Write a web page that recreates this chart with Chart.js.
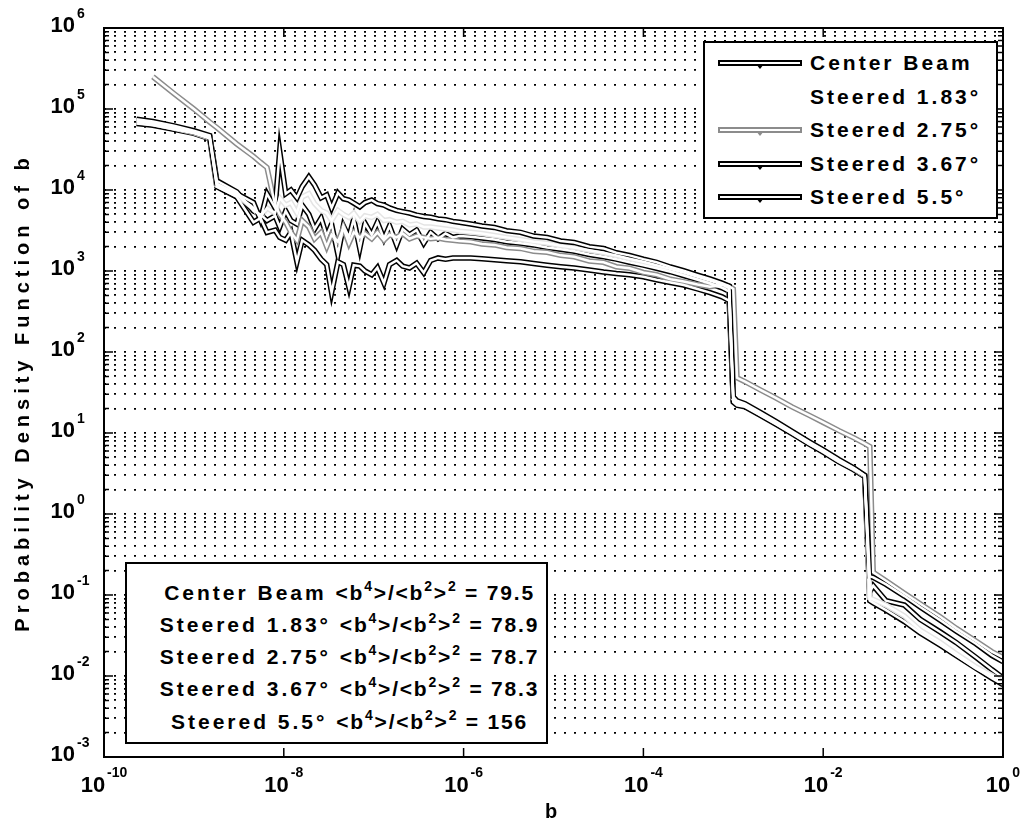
<!DOCTYPE html>
<html>
<head>
<meta charset="utf-8">
<script src="https://cdn.jsdelivr.net/npm/chart.js@4.4.1/dist/chart.umd.min.js"></script>
<style>
  body { margin: 0; background: #fff; }
  #wrap { position: relative; width: 1029px; height: 826px; }
  .box {
    position: absolute; background: #fff; border: 2px solid #000; color: #000;
    font-family: "Liberation Sans", Arial, sans-serif; font-weight: bold;
    font-size: 21px; letter-spacing: 3px;
  }
  .row { position: absolute; left: 0; right: 0; height: 24px; line-height: 24px; white-space: nowrap; }
  .sample { position: absolute; left: 13px; top: 9px; width: 80px; height: 2px; background: #fff; border: 2px solid #000; }
  .sample::after {
    content: ""; position: absolute; left: 36px; top: 2px; width: 0; height: 0;
    border-left: 4px solid transparent; border-right: 4px solid transparent; border-top: 5px solid currentColor;
  }
  .lbl { position: absolute; left: 105px; }
  .stat { text-align: center; padding-left: 26px; }
  .stat .f { letter-spacing: 1.8px; }
  .stat sup { font-size: 14px; position: relative; top: -9px; line-height: 0; vertical-align: baseline; }
</style>
</head>
<body>
<div id="wrap">
  <canvas id="chartCanvas"></canvas>

  <div class="box" style="left:703px; top:41px; width:291px; height:174px;">
    <div class="row" style="top:8px;"><div class="sample" style="color:#000"></div><span class="lbl">Center Beam</span></div>
    <div class="row" style="top:42px;"><span class="lbl">Steered 1.83°</span></div>
    <div class="row" style="top:75px;"><div class="sample" style="border-color:#8c8c8c; color:#8c8c8c"></div><span class="lbl">Steered 2.75°</span></div>
    <div class="row" style="top:109px;"><div class="sample" style="color:#000"></div><span class="lbl">Steered 3.67°</span></div>
    <div class="row" style="top:142px;"><div class="sample" style="color:#000"></div><span class="lbl">Steered 5.5°</span></div>
  </div>

  <div class="box" style="left:125px; top:562px; width:419px; height:178px;">
    <div class="row stat" style="top:17px;">Center Beam <span class="f">&lt;b<sup>4</sup>&gt;/&lt;b<sup>2</sup>&gt;<sup>2</sup> = 79.5</span></div>
    <div class="row stat" style="top:49px;">Steered 1.83° <span class="f">&lt;b<sup>4</sup>&gt;/&lt;b<sup>2</sup>&gt;<sup>2</sup> = 78.9</span></div>
    <div class="row stat" style="top:81px;">Steered 2.75° <span class="f">&lt;b<sup>4</sup>&gt;/&lt;b<sup>2</sup>&gt;<sup>2</sup> = 78.7</span></div>
    <div class="row stat" style="top:113px;">Steered 3.67° <span class="f">&lt;b<sup>4</sup>&gt;/&lt;b<sup>2</sup>&gt;<sup>2</sup> = 78.3</span></div>
    <div class="row stat" style="top:146px;">Steered 5.5° <span class="f">&lt;b<sup>4</sup>&gt;/&lt;b<sup>2</sup>&gt;<sup>2</sup> = 156</span></div>
  </div>
</div>

<script>
// valores de b (eje x)
const bVals = [
  2.3e-10, 3.5e-10, 6e-10, 1e-9, 1.5e-9, 1.8e-9, 3e-9, 4.6e-9, 5.5e-9, 6.5e-9,
  8e-9, 9e-9, 1.05e-8, 1.2e-8, 1.4e-8, 1.6e-8, 1.9e-8, 2.2e-8, 2.6e-8, 3e-8,
  3.4e-8, 4e-8, 4.6e-8, 5.3e-8, 6e-8, 7e-8, 8e-8, 9.5e-8, 1.1e-7, 1.3e-7,
  1.5e-7, 1.8e-7, 2.1e-7, 2.5e-7, 3e-7, 3.6e-7, 4.3e-7, 5.2e-7, 6.3e-7, 7.6e-7,
  9e-7, 1.2e-6, 1.6e-6, 2.2e-6, 3e-6, 4.3e-6, 6e-6, 8.5e-6, 1.2e-5, 1.7e-5,
  2.5e-5, 3.6e-5, 5e-5, 7e-5, 1e-4, 1.4e-4, 2e-4, 2.8e-4, 4e-4, 5.5e-4,
  7.5e-4, 9e-4, 1.0e-3, 1.1e-3, 1.35e-3, 2e-3, 3e-3, 4.5e-3, 7e-3, 1e-2,
  1.5e-2, 2.2e-2, 2.9e-2, 3.3e-2, 3.6e-2, 5e-2, 8e-2, 0.12, 0.2, 0.3,
  0.5, 0.75, 1
];

const centerBeam = [
  72000, 68000, 60000, 52000, 45000, 12000, 9000, 7000, 4300, 9000,
  6000, 30000, 9000, 10000, 8000, 11000, 14500, 11500, 8000, 8700,
  6000, 9200, 7800, 7500, 6900, 6200, 7000, 7500, 6800, 6500,
  6000, 5600, 5400, 5200, 4900, 4700, 4600, 4400, 4300, 4100,
  4000, 3800, 3600, 3450, 3150, 3000, 2700, 2600, 2350, 2250,
  2000, 1900, 1680, 1560, 1400, 1280, 1120, 1010, 890, 800,
  710, 650, 28, 25, 23, 18, 13.8, 10.5, 7.8, 6.2,
  4.7, 3.7, 3.0, 0.17, 0.165, 0.135, 0.097, 0.071, 0.049, 0.036,
  0.025, 0.018, 0.015
];

const steered183 = [
  70000, 66000, 58000, 51000, 44000, 11500, 8700, 6000, 4600, 6000,
  5200, 8000, 6500, 7000, 5200, 8200, 9000, 6800, 5600, 5200,
  4200, 5600, 5000, 4600, 5200, 4100, 4800, 4600, 5000, 4200,
  4300, 4000, 4100, 3700, 3800, 3500, 3500, 3400, 3300, 3200,
  3100, 3000, 2900, 2750, 2600, 2450, 2300, 2200, 2050, 1950,
  1800, 1680, 1550, 1420, 1300, 1180, 1060, 960, 850, 760,
  680, 610, 27, 24, 22.5, 17.5, 13.5, 10.3, 7.6, 6.1,
  4.6, 3.65, 2.98, 0.092, 0.088, 0.075, 0.055, 0.037, 0.026, 0.019,
  0.013, 0.0102, 0.0085
];

const steered275 = [
  null, 250000, 155000, 100000, 69000, 59000, 37000, 26000, 22000, 19000,
  6500, 5000, 4000, 3000, 2400, 4200, 3500, 2500, 3000, 2000,
  2800, 2300, 3400, 2200, 3000, 2600, 2900, 2500, 3000, 2400,
  2800, 2600, 2900, 2500, 2700, 2600, 2500, 2550, 2450, 2400,
  2350, 2300, 2150, 2100, 1950, 1900, 1750, 1700, 1560, 1500,
  1330, 1280, 1130, 1080, 960, 900, 790, 740, 680, 640,
  680, 650, 600, 48, 43, 34, 27, 21, 16.5, 13.5,
  10.7, 8.7, 7.4, 6.8, 0.19, 0.15, 0.105, 0.078, 0.054, 0.039,
  0.027, 0.020, 0.017
];

const steered367 = [
  75000, 70000, 62000, 54000, 47000, 13000, 9500, 5500, 5000, 4200,
  4800, 3500, 5500, 4200, 3800, 6500, 5000, 3300, 4500, 2700,
  3800, 1600, 3600, 2600, 4400, 1900, 3900, 2800, 4000, 2500,
  3600, 2100, 3300, 2800, 3200, 2200, 3000, 2500, 2900, 2600,
  2700, 2650, 2550, 2450, 2300, 2200, 2100, 1950, 1850, 1750,
  1600, 1500, 1400, 1280, 1180, 1080, 980, 880, 780, 700,
  620, 560, 25, 23, 22, 17, 13.2, 10.1, 7.5, 6.0,
  4.5, 3.6, 2.95, 0.11, 0.13, 0.085, 0.075, 0.05, 0.035, 0.026,
  0.017, 0.012, 0.0095
];

const steered55 = [
  66000, 63000, 56000, 50000, 43000, 11000, 8200, 4000, 4500, 3000,
  3200, 2600, 2400, 3000, 1300, 2400, 2100, 1800, 1400, 1200,
  540, 1300, 1200, 630, 1180, 1150, 1000, 900, 1100, 710,
  1200, 1350, 1150, 1090, 1250, 950, 1350, 1450, 1400, 1450,
  1450, 1450, 1420, 1380, 1340, 1300, 1240, 1180, 1130, 1090,
  1030, 970, 930, 900, 850, 780, 720, 670, 600, 540,
  480, 430, 24, 22, 21, 16.5, 12.8, 9.8, 7.3, 5.8,
  4.4, 3.5, 2.9, 0.085, 0.08, 0.065, 0.047, 0.034, 0.024, 0.018,
  0.0125, 0.0094, 0.0078
];

const seriesLabels = ['Center Beam', 'Steered 1.83°', 'Steered 2.75°', 'Steered 3.67°', 'Steered 5.5°'];
const seriesData = [centerBeam, steered183, steered275, steered367, steered55];
const edgeColors = ['#000', '#e4e4e4', '#8c8c8c', '#000', '#000'];

// exponentes de las marcas
const xTickExps = [-10, -8, -6, -4, -2, 0];
const yTickExps = [-3, -2, -1, 0, 1, 2, 3, 4, 5, 6];

const FONT = '"Liberation Sans", Arial, sans-serif';

// rejilla menor en y: 1..9 x 10^n
const yGrid = [];
yTickExps.forEach(e => {
    for (let m = 1; m <= 9; m++) {
        if (e === 6 && m > 1) break;
        yGrid.push(m * Math.pow(10, e));
    }
});

const toPoints = arr => bVals.map((b, i) => ({ x: b, y: arr[i] }));

const datasets = [];
// nucleo blanco de cada curva (encima)
seriesData.forEach((arr, i) => {
    datasets.push({
        label: seriesLabels[i],
        data: toPoints(arr),
        borderColor: '#fff',
        borderWidth: 2.5,
        pointRadius: 0,
        tension: 0,
        order: 0,
        fill: i === 0 ? { target: 4, above: '#fff', below: '#fff' } : false
    });
});
// contorno de cada curva (debajo)
seriesData.forEach((arr, i) => {
    datasets.push({
        label: seriesLabels[i] + ' edge',
        data: toPoints(arr),
        borderColor: edgeColors[i],
        borderWidth: 5.5,
        pointRadius: 0,
        tension: 0,
        order: 1,
        fill: false
    });
});

const axisDeco = {
    id: 'axisDeco',
    beforeDraw(chart) {
        chart.ctx.letterSpacing = '5px';
    },
    afterDraw(chart) {
        const { ctx, chartArea: a, scales: { x, y } } = chart;
        ctx.save();
        ctx.letterSpacing = '0px';
        ctx.strokeStyle = '#000';
        ctx.lineWidth = 1.5;
        ctx.beginPath();
        yGrid.forEach(v => {
            const py = y.getPixelForValue(v);
            const major = Math.abs(Math.log10(v) - Math.round(Math.log10(v))) < 1e-9;
            const len = major ? 9 : 5;
            ctx.moveTo(a.left, py); ctx.lineTo(a.left + len, py);
            ctx.moveTo(a.right, py); ctx.lineTo(a.right - len, py);
        });
        xTickExps.forEach(e => {
            const px = x.getPixelForValue(Math.pow(10, e));
            ctx.moveTo(px, a.bottom); ctx.lineTo(px, a.bottom - 9);
            ctx.moveTo(px, a.top); ctx.lineTo(px, a.top + 9);
        });
        ctx.stroke();
        ctx.lineWidth = 2;
        ctx.strokeRect(a.left, a.top, a.right - a.left, a.bottom - a.top);

        const base = 'bold 22px ' + FONT;
        const sup = 'bold 14px ' + FONT;
        ctx.fillStyle = '#000';
        ctx.textBaseline = 'middle';
        yTickExps.forEach(e => {
            const py = y.getPixelForValue(Math.pow(10, e));
            ctx.font = base; ctx.textAlign = 'right';
            ctx.fillText('10', 75, py - 2);
            ctx.font = sup; ctx.textAlign = 'left';
            ctx.fillText(String(e), 77, py - 14);
        });
        ctx.textAlign = 'left';
        xTickExps.forEach(e => {
            const px = x.getPixelForValue(Math.pow(10, e));
            ctx.font = base; const w1 = ctx.measureText('10').width;
            ctx.font = sup; const w2 = ctx.measureText(String(e)).width;
            const start = px - (w1 + 2 + w2) / 2;
            ctx.font = base; ctx.fillText('10', start, a.bottom + 29);
            ctx.font = sup; ctx.fillText(String(e), start + w1 + 2, a.bottom + 16);
        });
        ctx.restore();
    }
};

const ctx = document.getElementById('chartCanvas').getContext('2d');
new Chart(ctx, {
    type: 'line',
    data: { datasets: datasets },
    plugins: [axisDeco],
    options: {
        responsive: true,
        maintainAspectRatio: false,
        animation: false,
        events: [],
        layout: { padding: { left: 0, right: 26, top: 28, bottom: 0 } },
        plugins: {
            legend: { display: false },
            tooltip: { enabled: false },
            filler: { drawTime: 'beforeDatasetsDraw' }
        },
        scales: {
            x: {
                type: 'logarithmic',
                min: 1e-10,
                max: 1,
                afterFit(scale) { scale.height = 69; },
                afterBuildTicks(scale) { scale.ticks = xTickExps.map(e => ({ value: Math.pow(10, e) })); },
                ticks: { display: false },
                grid: { display: false },
                border: { display: false },
                title: {
                    display: true, text: 'b', color: '#000',
                    font: { family: FONT, size: 20, weight: 'bold' },
                    padding: { top: 0, bottom: 2 }
                }
            },
            y: {
                type: 'logarithmic',
                min: 1e-3,
                max: 1e6,
                afterFit(scale) { scale.width = 104; },
                afterBuildTicks(scale) { scale.ticks = yGrid.map(v => ({ value: v })); },
                ticks: { display: false },
                grid: { color: '#000', lineWidth: 1.8, drawTicks: false },
                border: { display: false, dash: [2, 8] },
                title: {
                    display: true, text: 'Probability Density Function of b', color: '#000',
                    font: { family: FONT, size: 20, weight: 'bold' },
                    padding: { top: 11, bottom: 0 }
                }
            }
        }
    }
});
</script>
</body>
</html>
